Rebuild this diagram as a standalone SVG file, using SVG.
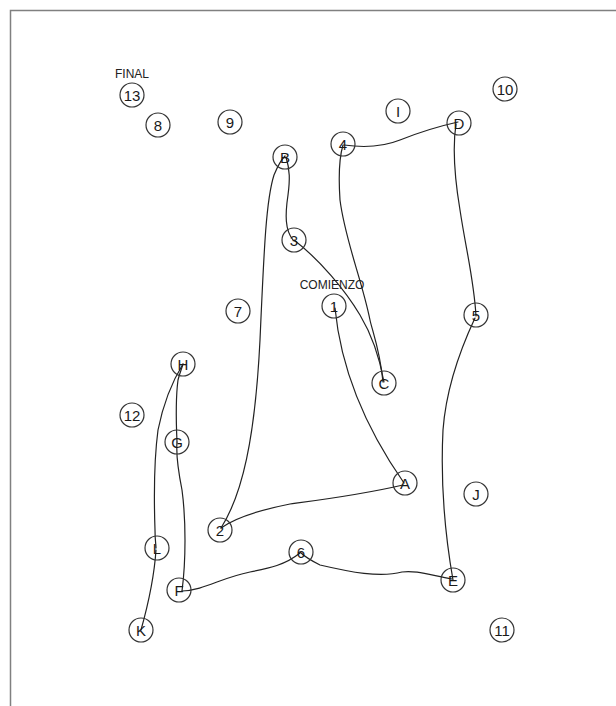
<svg xmlns="http://www.w3.org/2000/svg" width="616" height="706" viewBox="0 0 616 706">
<style>
.n circle{fill:none;stroke:#333;stroke-width:1.2}
.n text{font-family:"Liberation Sans",Arial,sans-serif;font-size:15px;fill:#1a1a1a;text-anchor:middle;dominant-baseline:central}
.lbl{font-family:"Liberation Sans",Arial,sans-serif;font-size:12px;fill:#222;text-anchor:middle}
#edges path{fill:none;stroke:#222;stroke-width:1.2;stroke-linecap:round}
</style>
<rect width="616" height="706" fill="#fff"/>
<path d="M10.5 706V10.5H616" fill="none" stroke="#808080" stroke-width="1.5"/>
<g id="edges">
<path d="M335 308C340 360 360 420 404 483"/>
<path d="M403 485C360 495 320 500 290 504C260 510 235 518 221 528"/>
<path d="M221 528C242 495 255 440 260 340C264 250 266 200 274 175C279 163 283 158 285 156"/>
<path d="M286 157C290 170 290 180 288 195C285 215 285 230 293 240"/>
<path d="M294 240C320 260 345 290 360 315C372 335 380 360 384 382"/>
<path d="M383 382C380 350 372 330 370 320C362 280 345 240 340 200C338 170 340 155 343 145"/>
<path d="M344 145C365 148 385 146 400 140C425 130 440 126 458 122"/>
<path d="M456 124C452 150 455 180 460 210C466 250 474 280 476 316"/>
<path d="M475 318C460 350 446 390 443 430C440 490 446 540 453 580"/>
<path d="M452 579C430 575 415 570 402 572C380 578 350 572 320 565C310 560 303 555 300 552"/>
<path d="M300 553C285 565 270 568 250 572C220 578 205 590 182 591"/>
<path d="M182 591C186 560 186 520 182 490C178 470 176 455 177 442"/>
<path d="M177 442C176 420 176 395 178 380C180 372 182 368 183 364"/>
<path d="M183 364C170 385 162 410 158 430C154 460 154 500 155 530C155 540 156 545 156 548"/>
<path d="M156 550C154 580 148 605 141 630"/>
</g>
<text class="lbl" x="132" y="78">FINAL</text>
<text class="lbl" x="332" y="289">COMIENZO</text>
<g id="n13" class="n"><circle cx="132" cy="95" r="12"/><text x="132" y="95">13</text></g>
<g id="n8" class="n"><circle cx="158" cy="125" r="12"/><text x="158" y="125">8</text></g>
<g id="n9" class="n"><circle cx="230" cy="122" r="12"/><text x="230" y="122">9</text></g>
<g id="nI" class="n"><circle cx="398" cy="111" r="12"/><text x="398" y="111">I</text></g>
<g id="n10" class="n"><circle cx="505" cy="89" r="12"/><text x="505" y="89">10</text></g>
<g id="nD" class="n"><circle cx="459" cy="123" r="12"/><text x="459" y="123">D</text></g>
<g id="n4" class="n"><circle cx="343" cy="144" r="12"/><text x="343" y="144">4</text></g>
<g id="nB" class="n"><circle cx="285" cy="157" r="12"/><text x="285" y="157">B</text></g>
<g id="n3" class="n"><circle cx="294" cy="240" r="12"/><text x="294" y="240">3</text></g>
<g id="n1" class="n"><circle cx="334" cy="306" r="12"/><text x="334" y="306">1</text></g>
<g id="n7" class="n"><circle cx="238" cy="311" r="12"/><text x="238" y="311">7</text></g>
<g id="n5" class="n"><circle cx="476" cy="315" r="12"/><text x="476" y="315">5</text></g>
<g id="nH" class="n"><circle cx="183" cy="364" r="12"/><text x="183" y="364">H</text></g>
<g id="nC" class="n"><circle cx="384" cy="383" r="12"/><text x="384" y="383">C</text></g>
<g id="n12" class="n"><circle cx="132" cy="415" r="12"/><text x="132" y="415">12</text></g>
<g id="nG" class="n"><circle cx="177" cy="442" r="12"/><text x="177" y="442">G</text></g>
<g id="nA" class="n"><circle cx="405" cy="483" r="12"/><text x="405" y="483">A</text></g>
<g id="nJ" class="n"><circle cx="476" cy="494" r="12"/><text x="476" y="494">J</text></g>
<g id="n2" class="n"><circle cx="220" cy="530" r="12"/><text x="220" y="530">2</text></g>
<g id="nL" class="n"><circle cx="157" cy="548" r="12"/><text x="157" y="548">L</text></g>
<g id="n6" class="n"><circle cx="301" cy="552" r="12"/><text x="301" y="552">6</text></g>
<g id="nE" class="n"><circle cx="453" cy="580" r="12"/><text x="453" y="580">E</text></g>
<g id="nF" class="n"><circle cx="179" cy="590" r="12"/><text x="179" y="590">F</text></g>
<g id="nK" class="n"><circle cx="141" cy="630" r="12"/><text x="141" y="630">K</text></g>
<g id="n11" class="n"><circle cx="502" cy="630" r="12"/><text x="502" y="630">11</text></g>
</svg>
